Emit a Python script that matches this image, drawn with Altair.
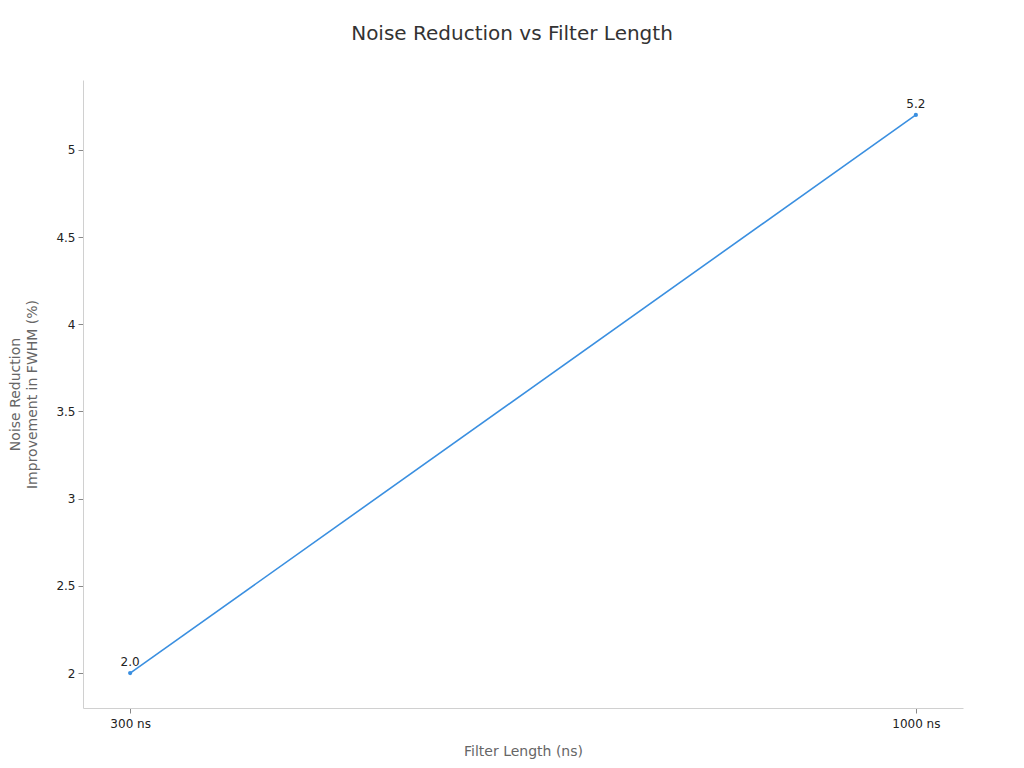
import altair as alt
import pandas as pd

filter_labels = ["300 ns", "1000 ns"]
improvement = [2.0, 5.2]

df = pd.DataFrame({"filter": filter_labels, "value": improvement})
df["label"] = df["value"].map(lambda v: f"{v:.1f}")

FONT = "DejaVu Sans"
BLUE = "#3a8fe0"

x = alt.X("filter:N", sort=filter_labels, title="Filter Length (ns)",
          scale=alt.Scale(type="point", padding=0.06),
          axis=alt.Axis(labelAngle=0, titlePadding=15, labelPadding=5))
y = alt.Y("value:Q", title=["Noise Reduction", "Improvement in FWHM (%)"],
          scale=alt.Scale(domain=[1.8, 5.4], nice=False, zero=False),
          axis=alt.Axis(values=[2, 2.5, 3, 3.5, 4, 4.5, 5], grid=False, titlePadding=16,
                        labelPadding=3, format="~g", titleLineHeight=17))

base = alt.Chart(df).encode(x=x, y=y)
line = base.mark_line(color=BLUE, strokeWidth=1.6)
pts = base.mark_circle(color=BLUE, size=18, opacity=1)
txt = base.mark_text(dy=-11, fontSize=12, color="#222222", font=FONT).encode(text="label:N")

chart = (line + pts + txt).properties(
    width=880, height=628,
    title=alt.Title("Noise Reduction vs Filter Length", fontSize=20, font=FONT,
                    fontWeight="normal", color="#333333", offset=36, dx=-11),
    autosize=alt.AutoSizeParams(type="none"),
    padding={"left": 75, "top": 72, "right": 53, "bottom": 56},
).configure_view(stroke=None).configure_axis(
    labelFont=FONT, titleFont=FONT, labelFontSize=12, titleFontSize=14,
    labelColor="#222222", titleColor="#666666", titleFontWeight="normal",
    domainColor="#d0d0d0", tickColor="#888888", tickSize=5,
)

chart.save("out.html", embed_options={"renderer": "svg", "actions": False})
